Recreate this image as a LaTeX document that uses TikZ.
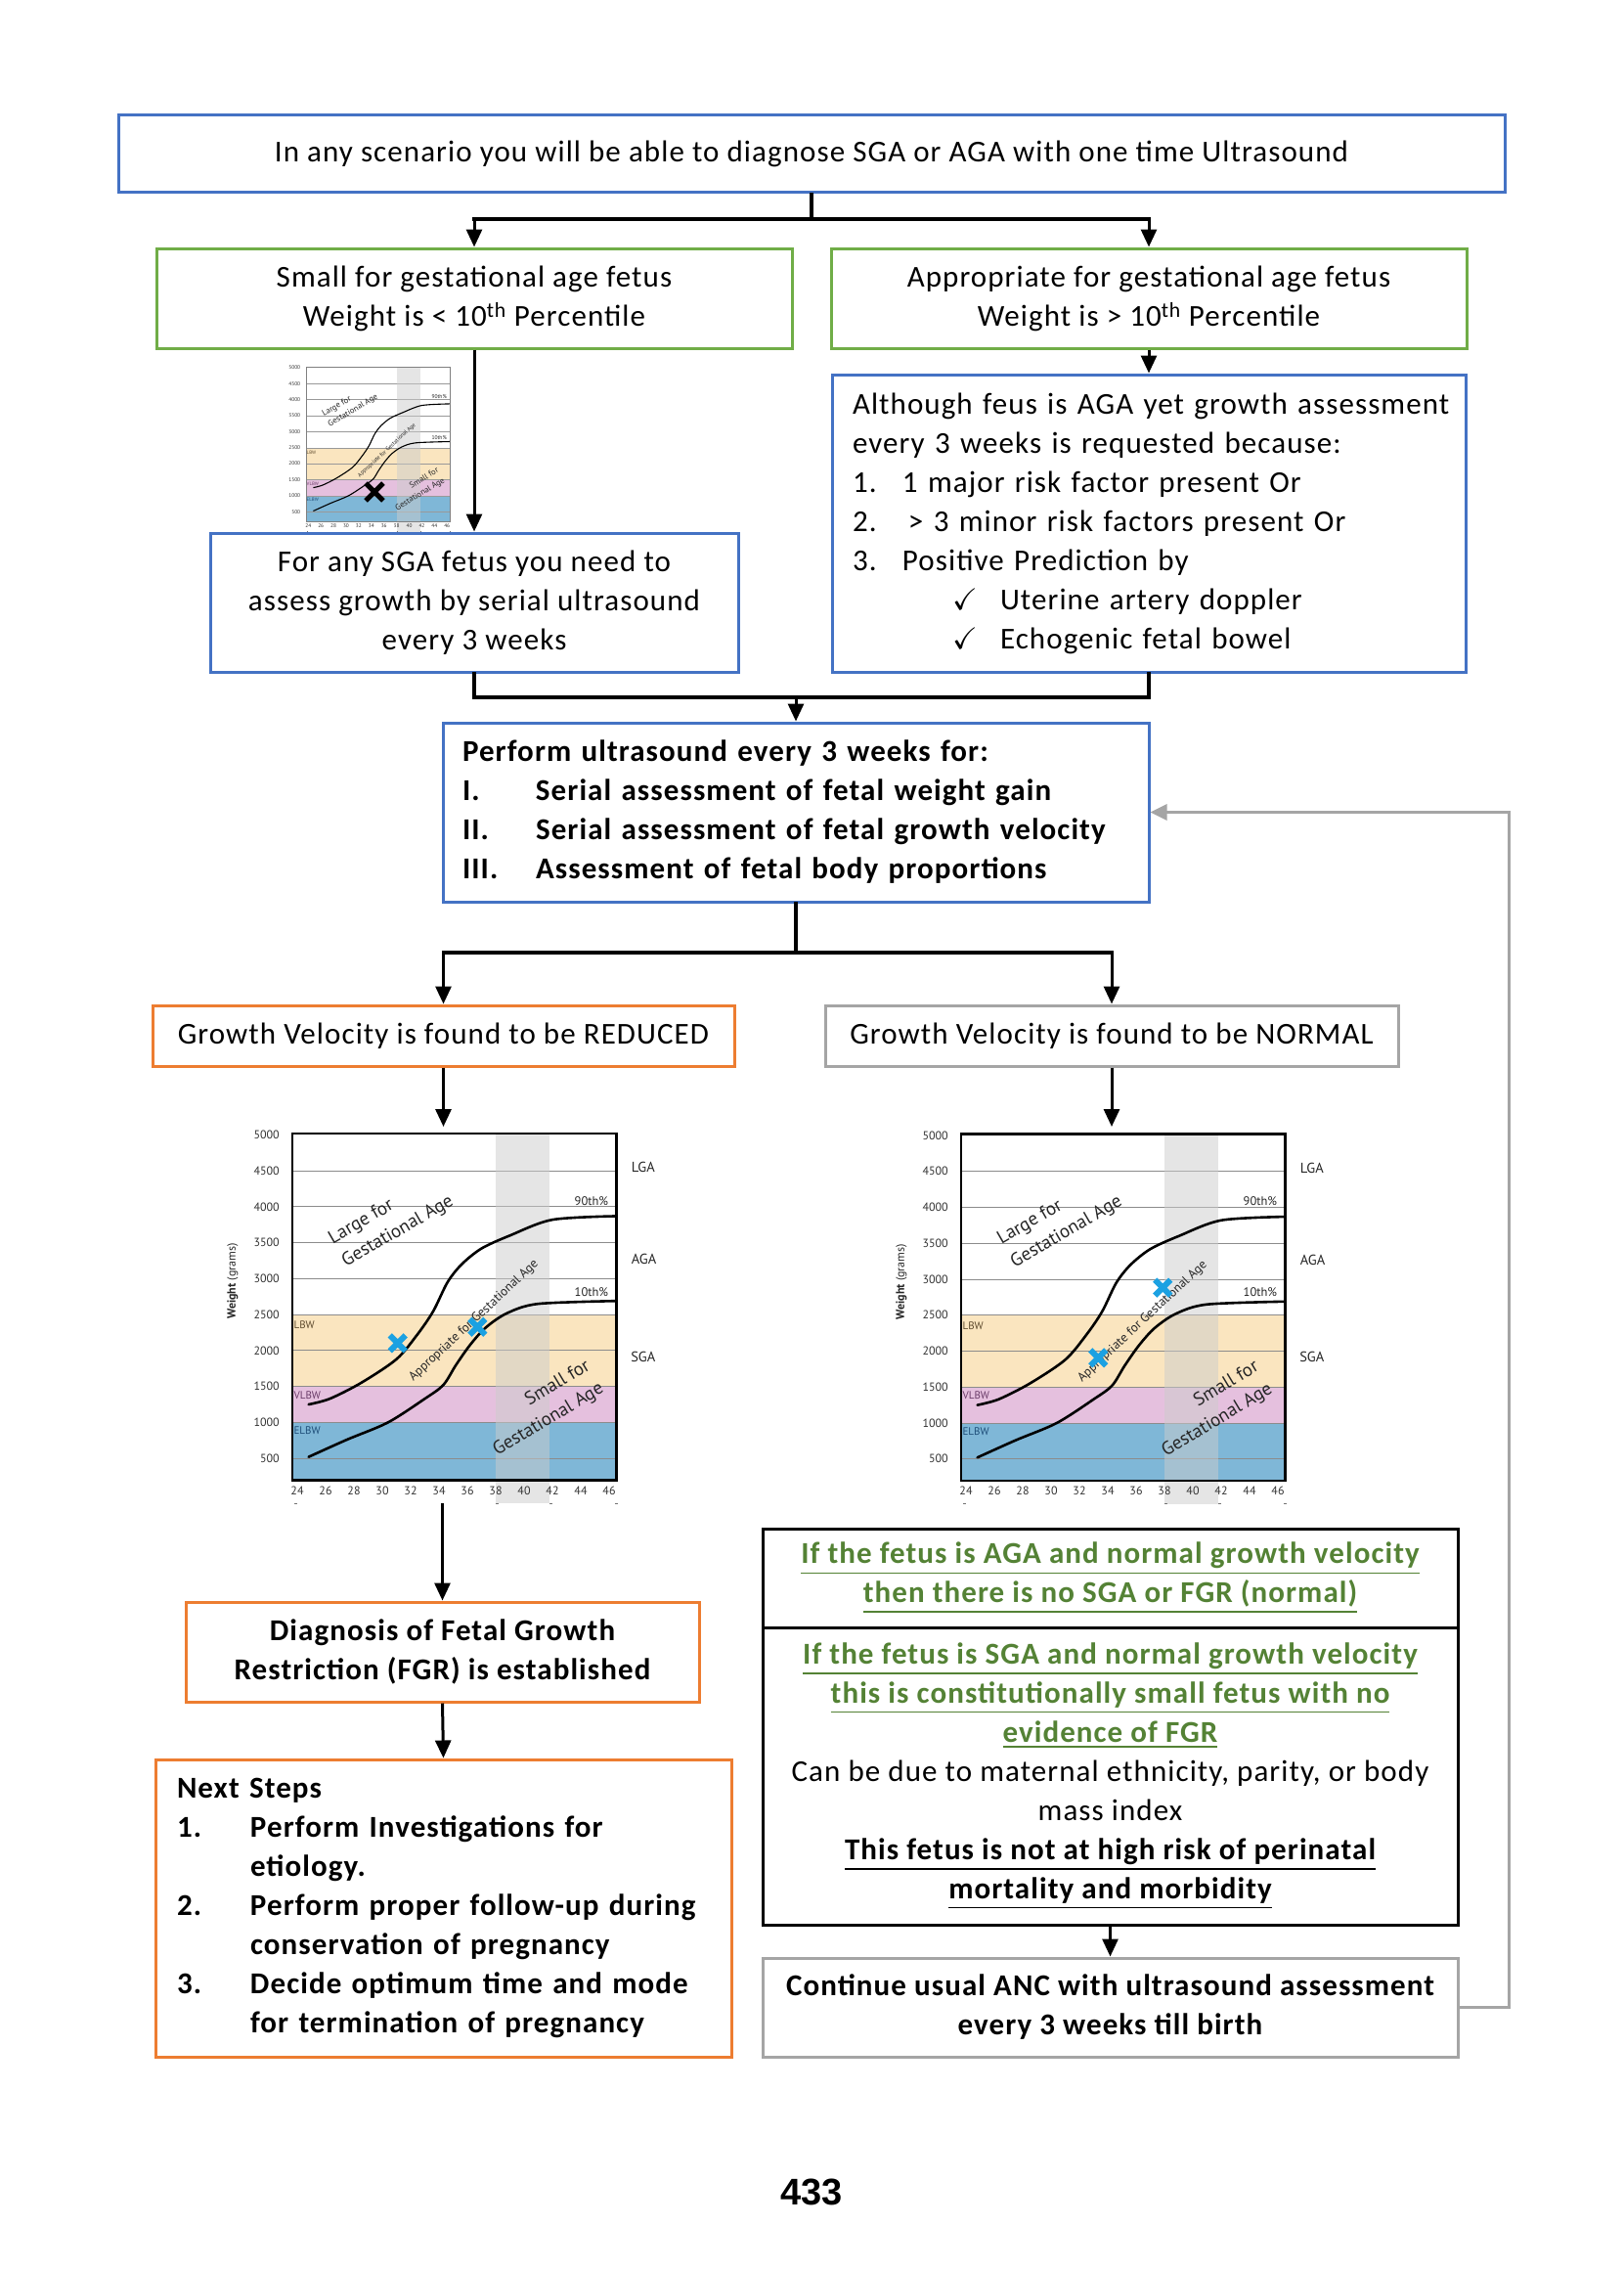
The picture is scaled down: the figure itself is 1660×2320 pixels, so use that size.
\documentclass[tikz,border=0pt]{standalone}
\usepackage{fontspec}
\usepackage{amssymb}
\setmainfont{Carlito}[LetterSpace=3.5]
\newfontfamily\chartfont{PT Sans}
\newfontfamily\pagefont{Liberation Sans}
\usetikzlibrary{arrows.meta,calc}

\begin{document}
\begin{tikzpicture}[x=1pt,y=-1pt,font=\fontsize{31}{40}\selectfont,
 box/.style={draw,line width=3pt,fill=white,inner sep=0pt,align=center},
 bluebox/.style={box,draw=wordblue},
 greenbox/.style={box,draw=wordgreen},
 orangebox/.style={box,draw=wordorange},
 graybox/.style={box,draw=wordgray},
 blackbox/.style={box,draw=black},
 boldtext/.style={font=\fontsize{31}{40}\selectfont\bfseries},
 bus/.style={line width=3.5pt,line cap=rect},
 flow/.style={-{Triangle[length=18pt,width=16pt]},line width=3pt},
 loopback/.style={-{Triangle[length=17pt,width=16pt]},line width=3pt,draw=wordgray},
 gridline/.style={draw=black!45,line width=.9pt},
 pcurve/.style={line width=2.6pt,line cap=round},
 chartframe/.style={draw=black,line width=2.6pt},
 termband/.style={fill=black!20,opacity=.5},
 tickmark/.style={draw=black!55,line width=1pt},
 ylab/.style={anchor=east,inner sep=0pt,text=black!80,font=\chartfont\fontsize{12}{12}\selectfont},
 xlab/.style={inner sep=0pt,text=black!80,font=\chartfont\fontsize{12}{12}\selectfont},
 bandlab/.style={anchor=west,inner sep=0pt,font=\chartfont\fontsize{11}{11}\selectfont},
 pctlab/.style={anchor=east,inner sep=0pt,text=black!85,font=\chartfont\fontsize{12.5}{12.5}\selectfont},
 zonelab/.style={inner sep=0pt,text=black!85,font=\chartfont\fontsize{19}{27}\selectfont},
 apptlab/.style={inner sep=0pt,text=black!85,font=\chartfont\fontsize{13}{13}\selectfont},
 sidelab/.style={inner sep=0pt,text=black!85,font=\chartfont\fontsize{14.5}{14.5}\selectfont},
 weightlab/.style={inner sep=0pt,text=black!85,font=\chartfont\fontsize{12}{12}\selectfont},
 pics/growthchart/.style={code={
  \fill[lbwtan] (23.65,1500) rectangle (46.5,2500);
  \fill[vlbwpink] (23.65,1000) rectangle (46.5,1500);
  \fill[elbwblue] (23.65,200) rectangle (46.5,1000);
  \foreach \g in {500,1000,...,4500} \draw[gridline] (23.65,\g) -- (46.5,\g);
  \fill[termband] (38,-124) rectangle (41.8,5020);
  \draw[pcurve] plot[smooth] coordinates {(24.8,1250) (26.3,1330) (28.5,1550) (31,1880) (32.5,2230) (33.6,2550) (34.6,2950) (35.6,3200) (37,3420) (39,3600) (42,3820) (46.5,3870)};
  \draw[pcurve] plot[smooth] coordinates {(24.8,520) (27.5,760) (30.4,1000) (33,1330) (34.3,1520) (35.2,1800) (36.2,2080) (37.3,2320) (38.8,2520) (41,2650) (46.5,2690)};
  \draw[chartframe] (23.65,200) rectangle (46.5,5020);
  \foreach \g in {500,1000,...,5000} \node[ylab] at (22.75,\g) {\g};
  \foreach \w in {24,26,...,46} \node[xlab] at (\w,55) {\w};
  \foreach \w in {23.8,38,41.8,46.4} \draw[tickmark] (\w,-124) -- ++(3pt,0);
  \node[bandlab,text=lbwtext] at (23.75,2353) {LBW};
  \node[bandlab,text=vlbwtext] at (23.75,1381) {VLBW};
  \node[bandlab,text=elbwtext] at (23.75,884) {ELBW};
  \node[pctlab] at (45.95,4084) {90th\%};
  \node[pctlab] at (45.95,2819) {10th\%};
  \node[zonelab,rotate=30,align=left] at (30.64,3812) {Large for\\Gestational Age};
  \node[zonelab,rotate=31,align=right] at (41.25,1192) {Small for\\Gestational Age};
  \node[apptlab,rotate=43] at (36.46,2412) {Appropriate for Gestational Age};
 }},
 pics/chartside/.style={code={
  \node[sidelab] at (48.4,4545) {LGA};
  \node[sidelab] at (48.45,3270) {AGA};
  \node[sidelab] at (48.4,1914) {SGA};
  \node[weightlab,rotate=90] at (19.45,2965) {\textbf{Weight} (grams)};
 }},
 pics/fetusmark/.style={code={\draw[line cap=butt] (-#1,-#1) -- (#1,#1) (-#1,#1) -- (#1,-#1);}}]
\definecolor{wordblue}{HTML}{4472C4}
\definecolor{wordgreen}{HTML}{70AD47}
\definecolor{wordorange}{HTML}{ED7D31}
\definecolor{wordgray}{HTML}{A5A5A5}
\definecolor{textgreen}{HTML}{548235}
\definecolor{lbwtan}{HTML}{FAE5BF}
\definecolor{vlbwpink}{HTML}{E5C0DE}
\definecolor{elbwblue}{HTML}{7FB7D7}
\definecolor{lbwtext}{HTML}{5E4B2E}
\definecolor{vlbwtext}{HTML}{6A3B68}
\definecolor{elbwtext}{HTML}{1F4E79}
\definecolor{xblue}{HTML}{1BA1E2}
\fill[white] (0,0) rectangle (1660,2320);
\useasboundingbox (0,0) rectangle (1660,2320);
% first scan: SGA or AGA
\node[bluebox,minimum width=1418pt,minimum height=79pt] (scenario) at (830,157.5)
 {In any scenario you will be able to diagnose SGA or AGA with one time Ultrasound};
\node[greenbox,minimum width=650pt,minimum height=102pt] (sgafetus) at (485,305)
 {Small for gestational age fetus\\Weight is < 10\textsuperscript{th} Percentile};
\node[greenbox,minimum width=650pt,minimum height=102pt] (agafetus) at (1175,305)
 {Appropriate for gestational age fetus\\Weight is > 10\textsuperscript{th} Percentile};
\node[bluebox,minimum width=540pt,minimum height=142pt] (sgaserial) at (485,616)
 {For any SGA fetus you need to\\assess growth by serial ultrasound\\every 3 weeks};
\node[bluebox,minimum width=648pt,minimum height=304pt,inner xsep=21pt,text width=606pt,align=left] (agarisk) at (1175,535)
 {\mbox{Although feus is AGA yet growth assessment}\\
 every 3 weeks is requested because:\\
 \makebox[51pt][l]{1.}1 major risk factor present Or\\
 \makebox[51pt][l]{2.}\hspace{6pt}> 3 minor risk factors present Or\\
 \makebox[51pt][l]{3.}Positive Prediction by\\
 \hspace*{102pt}\makebox[49pt][l]{$\checkmark$}Uterine artery doppler\\
 \hspace*{102pt}\makebox[49pt][l]{$\checkmark$}Echogenic fetal bowel};
\node[bluebox,boldtext,minimum width=722pt,minimum height=183pt,inner xsep=20pt,text width=682pt,align=left] (perform) at (814,830.5)
 {Perform ultrasound every 3 weeks for:\\
 \makebox[75pt][l]{I.}Serial assessment of fetal weight gain\\
 \makebox[75pt][l]{II.}Serial assessment of fetal growth velocity\\
 \makebox[75pt][l]{III.}Assessment of fetal body proportions};
\coordinate (fork1) at (830,224);
\draw[bus] (scenario.south) -- (fork1);
\draw[bus] (sgafetus.north |- fork1) -- (agafetus.north |- fork1);
\draw[flow] (sgafetus.north |- fork1) -- (sgafetus.north);
\draw[flow] (agafetus.north |- fork1) -- (agafetus.north);
\draw[flow] (sgafetus.south) -- (sgaserial.north);
\draw[flow] (agafetus.south) -- (agarisk.north);
\coordinate (join1) at (814,713);
\draw[bus] (sgaserial.south) |- (join1) -| (agarisk.south);
\draw[flow] (join1) -- (perform.north);
% small chart beside the SGA branch
\begin{scope}[shift={(160.4,539.5)},scale=.445,transform shape,x=14.5pt,y=0.0735pt,
 pcurve/.style={line width=1.1pt},chartframe/.style={draw=black!50,line width=.8pt},
 gridline/.style={draw=black!40,line width=.4pt}]
\pic {growthchart};
\pic[color=black,line width=5pt] at (34.5,1116) {fetusmark=20pt};
\end{scope}
% growth velocity
\node[orangebox,minimum width=595pt,minimum height=62pt] (reduced) at (453.5,1059)
 {Growth Velocity is found to be REDUCED};
\node[graybox,minimum width=586pt,minimum height=62pt] (normal) at (1137,1059)
 {Growth Velocity is found to be NORMAL};
\coordinate (fork2) at (814,974);
\draw[bus] (perform.south) -- (fork2);
\draw[bus] (reduced.north |- fork2) -- (normal.north |- fork2);
\draw[flow] (reduced.north |- fork2) -- (reduced.north);
\draw[flow] (normal.north |- fork2) -- (normal.north);
\begin{scope}[shift={(-44,1527.9)},x=14.5pt,y=0.0735pt]
\pic {growthchart};
\pic {chartside};
\pic[color=xblue,line width=6pt] at (31.08,2103) {fetusmark=8pt};
\pic[color=xblue,line width=6pt] at (36.71,2329) {fetusmark=8pt};
\end{scope}
\begin{scope}[shift={(640,1528.5)},x=14.5pt,y=0.0735pt]
\pic {growthchart};
\pic {chartside};
\pic[color=xblue,line width=6pt] at (33.33,1907) {fetusmark=8pt};
\pic[color=xblue,line width=6pt] at (37.88,2882) {fetusmark=8pt};
\end{scope}
\coordinate (chartLin) at (453.5,1152);
\coordinate (chartLout) at (452.5,1537);
\coordinate (chartRin) at (1137,1152);
\draw[flow] (reduced.south) -- (chartLin);
\draw[flow] (normal.south) -- (chartRin);
% outcomes
\node[orangebox,boldtext,minimum width=525pt,minimum height=102pt] (fgr) at (452.5,1689)
 {Diagnosis of Fetal Growth\\Restriction (FGR) is established};
\node[orangebox,boldtext,minimum width=589pt,minimum height=304pt,inner xsep=22pt,text width=545pt,align=left] (nextsteps) at (453.5,1951)
 {Next Steps\\
 \makebox[75pt][l]{1.}Perform Investigations for\\
 \hspace*{75pt}etiology.\\
 \makebox[75pt][l]{2.}Perform proper follow-up during\\
 \hspace*{75pt}conservation of pregnancy\\
 \makebox[75pt][l]{3.}Decide optimum time and mode\\
 \hspace*{75pt}for termination of pregnancy};
\draw[flow] (chartLout) -- (fgr.north);
\draw[flow] (fgr.south) -- (nextsteps.north);
\node[blackbox,boldtext,text=textgreen,minimum width=711pt,minimum height=101pt] (aganormal) at (1135.5,1613.5)
 {\underline{If the fetus is AGA and normal growth velocity}\\\underline{then there is no SGA or FGR (normal)}};
\node[blackbox,minimum width=711pt,minimum height=304pt] (sganormal) at (1135.5,1816)
 {\textcolor{textgreen}{\bfseries\underline{If the fetus is SGA and normal growth velocity}}\\
 \textcolor{textgreen}{\bfseries\underline{this is constitutionally small fetus with no}}\\
 \textcolor{textgreen}{\bfseries\underline{evidence of FGR}}\\
 Can be due to maternal ethnicity, parity, or body\\
 mass index\\
 {\bfseries\underline{This fetus is not at high risk of perinatal}}\\
 {\bfseries\underline{mortality and morbidity}}};
\node[graybox,boldtext,minimum width=711pt,minimum height=101pt] (ancbox) at (1135.5,2052.5)
 {Continue usual ANC with ultrasound assessment\\every 3 weeks till birth};
\draw[flow] (sganormal.south) -- (ancbox.north);
\draw[loopback] (ancbox.east) -- ++(51,0) |- (perform.east);
\node[font=\pagefont\bfseries\fontsize{38}{38}\selectfont,inner sep=0pt] (pagenum) at (830,2241) {433};
\end{tikzpicture}
\end{document}
